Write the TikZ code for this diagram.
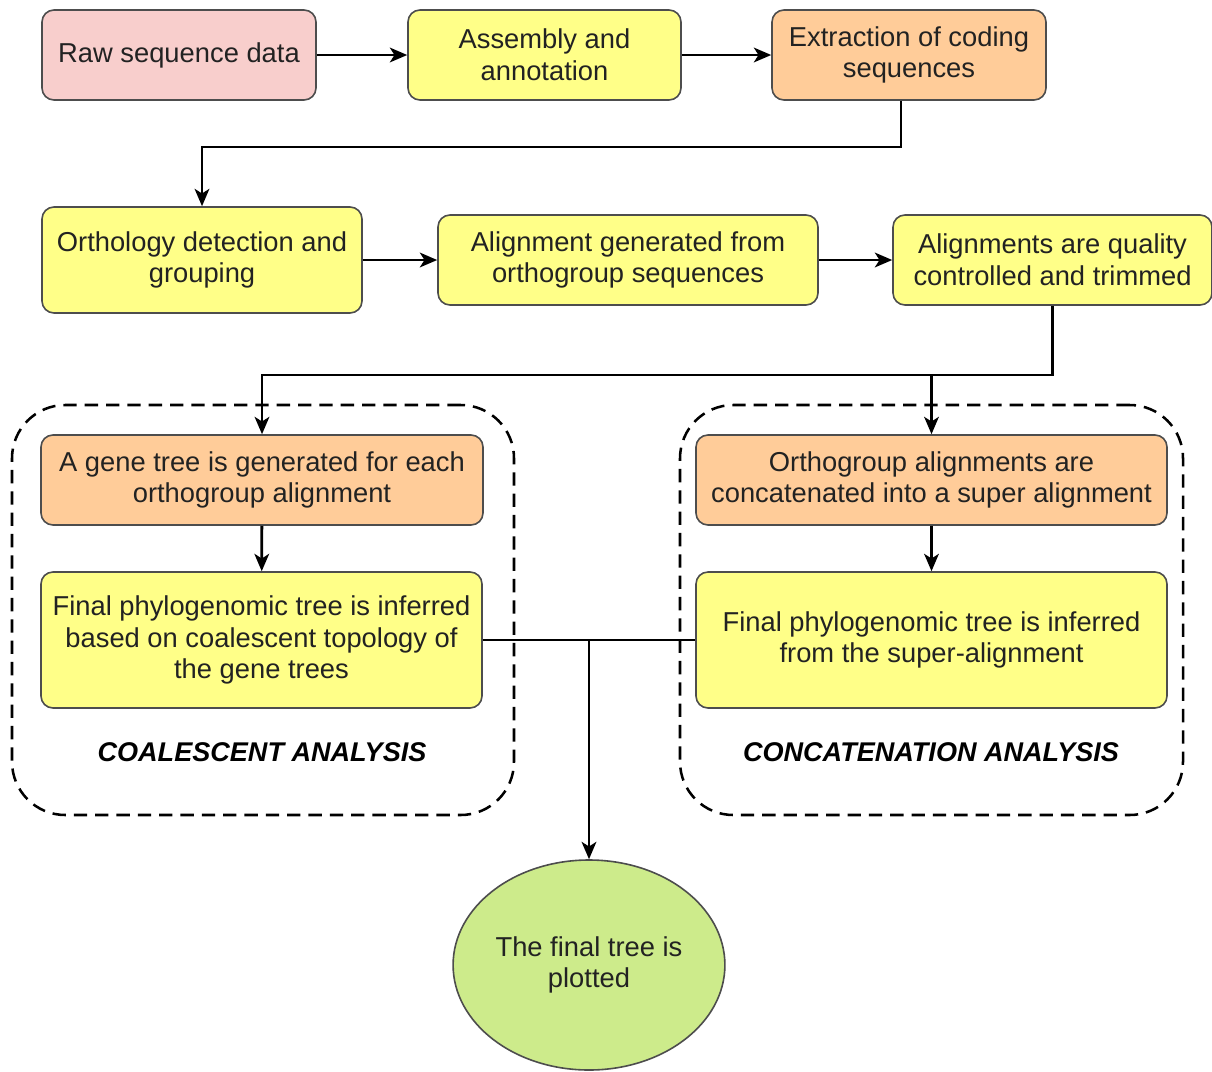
\documentclass[tikz,border=0pt]{standalone}
\usepackage{fontspec}
\setmainfont{Liberation Sans}
\usetikzlibrary{shapes.geometric,arrows.meta}
\definecolor{pinkf}{HTML}{F8CECC}
\definecolor{yelf}{HTML}{FFFF88}
\definecolor{orf}{HTML}{FFCC99}
\definecolor{grf}{HTML}{CDEB8B}
\definecolor{bord}{HTML}{4D4D4D}
\definecolor{txt}{HTML}{222222}
\tikzset{
  box/.style={draw=bord, line width=1.2pt, rounded corners=9pt, align=center,
    text=txt, font=\fontsize{20.5}{23.8}\selectfont, inner sep=2pt},
  conn/.style={line width=2.1pt, black},
  arr/.style={conn, -{Stealth[length=13pt,width=11pt,inset=3.5pt]}},
  dashbox/.style={draw=black, line width=1.9pt, dash pattern=on 10pt off 6pt, rounded corners=40pt},
  lbl/.style={font=\fontsize{20.3}{24}\selectfont\bfseries\itshape, text=black}
}
\begin{document}
\begin{tikzpicture}[x=0.75pt,y=-0.75pt]
\useasboundingbox[fill=white] (0,0) rectangle (1212,1071);
% dashed groups
\node[dashbox, minimum width=376.5pt, minimum height=307.5pt] (cl) at (263,610) {};
\node[dashbox, minimum width=377.25pt, minimum height=307.5pt] (cr) at (931.5,610) {};
% row 1
\node[box, fill=pinkf, minimum width=205.5pt, minimum height=67.5pt] (raw) at (179,55) {Raw sequence data};
\node[box, fill=yelf, minimum width=204.75pt, minimum height=67.5pt] (asm) at (544.5,55) {Assembly and\\annotation};
\node[box, fill=orf, minimum width=205.5pt, minimum height=67.5pt] (ext) at (909,55) {Extraction of coding\\sequences};
% row 2
\node[box, fill=yelf, minimum width=240pt, minimum height=79.5pt] (orth) at (202,260) {Orthology detection and\\grouping};
\node[box, fill=yelf, minimum width=285pt, minimum height=67.5pt] (aln) at (628,260) {Alignment generated from\\orthogroup sequences};
\node[box, fill=yelf, minimum width=239.25pt, minimum height=67.5pt] (qc) at (1052.5,260) {Alignments are quality\\controlled and trimmed};
% row 3
\node[box, fill=orf, minimum width=331.5pt, minimum height=67.5pt] (gene) at (262,480) {A gene tree is generated for each\\orthogroup alignment};
\node[box, fill=yelf, minimum width=330.75pt, minimum height=102pt] (finL) at (261.5,640) {Final phylogenomic tree is inferred\\based on coalescent topology of\\the gene trees};
\node[box, fill=orf, minimum width=353.25pt, minimum height=67.5pt] (oa) at (931.5,480) {Orthogroup alignments are\\concatenated into a super alignment};
\node[box, fill=yelf, minimum width=353.25pt, minimum height=102pt] (finR) at (931.5,640) {Final phylogenomic tree is inferred\\from the super-alignment};
% labels
\node[lbl] (labL) at (262,752) {COALESCENT ANALYSIS};
\node[lbl] (labR) at (931,752) {CONCATENATION ANALYSIS};
% final
\node[box, ellipse, fill=grf, minimum width=201pt, minimum height=157.5pt, rounded corners=0pt] (fin) at (589,965) {The final tree is\\plotted};
% connectors
\draw[arr] (raw) -- (asm);
\draw[arr] (asm) -- (ext);
\coordinate (b1) at (0,147);
\draw[arr] ([xshift=-6pt]ext.south) |- (orth.north |- b1) -- (orth.north);
\draw[arr] (orth.east |- aln.west) -- (aln.west);
\draw[arr] (aln) -- (qc);
\coordinate (split) at (931.5,375);
\draw[arr] (qc.south) |- (gene.north |- split) -- (gene.north);
\draw[arr] (split) -- (oa.north);
\draw[arr] (gene) -- (finL);
\draw[arr] (oa) -- (finR);
\draw[conn] (finL.east) -- (finR.west);
\draw[arr] (fin.north |- finL.east) -- (fin.north);
\end{tikzpicture}
\end{document}
